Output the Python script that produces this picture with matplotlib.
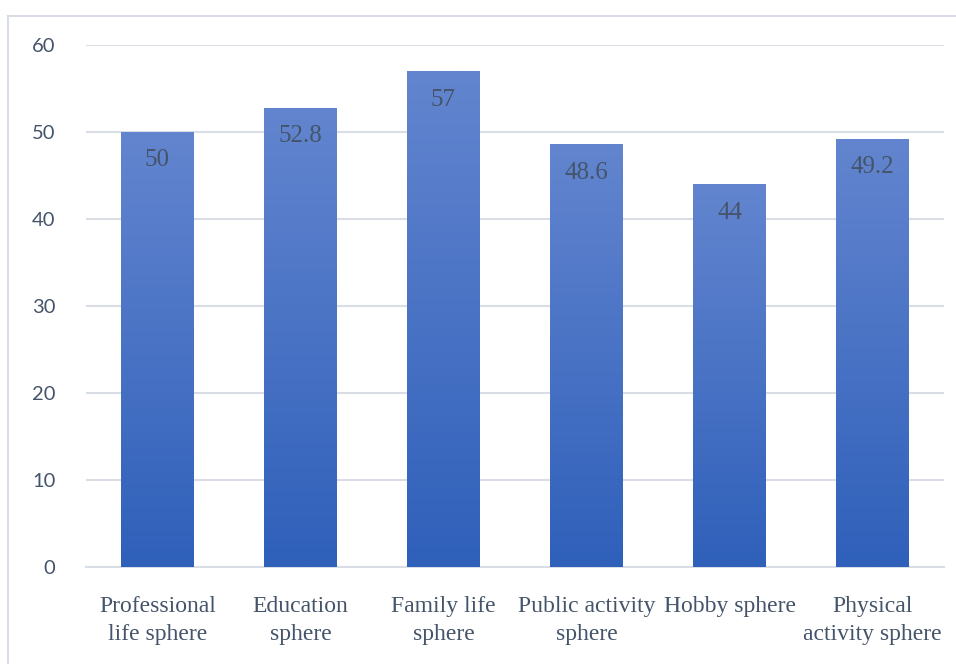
import matplotlib
matplotlib.use("Agg")
import matplotlib.pyplot as plt
import numpy as np
from matplotlib.colors import LinearSegmentedColormap
from matplotlib.lines import Line2D

categories = ["Professional\nlife sphere", "Education\nsphere", "Family life\nsphere",
              "Public activity\nsphere", "Hobby sphere", "Physical\nactivity sphere"]
values = [50, 52.8, 57, 48.6, 44, 49.2]
value_labels = ["50", "52.8", "57", "48.6", "44", "49.2"]
yticks = [0, 10, 20, 30, 40, 50, 60]

W, H = 956, 664
fig = plt.figure(figsize=(W / 100, H / 100), dpi=100)
ax = fig.add_axes([86 / W, (H - 567) / H, (944 - 86) / W, (567 - 45) / H])

text_color = "#44546A"
grid_color = "#D9DEE6"

# border of chart area
fig.add_artist(Line2D([8 / W, 1], [1 - 16 / H, 1 - 16 / H], color=grid_color, lw=1.5, transform=fig.transFigure))
fig.add_artist(Line2D([8 / W, 8 / W], [0, 1 - 16 / H], color=grid_color, lw=1.5, transform=fig.transFigure))

x = np.arange(len(categories))
bw = 0.51
bars = ax.bar(x, values, width=bw, color="none", edgecolor="none", zorder=3)

cmap = LinearSegmentedColormap.from_list("g", ["#2F60BA", "#6385CF"])
grad = np.linspace(0, 1, 256).reshape(-1, 1)
for b in bars:
    x0, y0 = b.get_x(), b.get_y()
    w, h = b.get_width(), b.get_height()
    im = ax.imshow(grad, extent=[x0, x0 + w, y0, y0 + h], origin="lower",
                   cmap=cmap, aspect="auto", zorder=3, interpolation="bilinear")
    im.set_clip_path(b)

for xi, v, lab in zip(x, values, value_labels):
    ax.annotate(lab, (xi, v), xytext=(0, -20.5), textcoords="offset points",
                ha="center", va="center", fontsize=18, color=text_color,
                family="Liberation Serif", zorder=5)

ax.set_xlim(-0.5, len(categories) - 0.5)
ax.set_ylim(0, 60)
ax.set_yticks(yticks)
ax.set_yticklabels([str(t) for t in yticks], fontsize=14.5, color=text_color, family="Lato")
ax.set_xticks(x)
ax.set_xticklabels(categories, fontsize=17, color=text_color, family="Liberation Serif",
                   linespacing=1.4)
ax.tick_params(axis="both", length=0)
ax.tick_params(axis="y", pad=22)
ax.tick_params(axis="x", pad=21)
ax.grid(axis="y", color=grid_color, lw=1.5, zorder=0)
ax.set_axisbelow(True)
for s in ["top", "right", "left"]:
    ax.spines[s].set_visible(False)
ax.spines["bottom"].set_color(grid_color)
ax.spines["bottom"].set_linewidth(1.5)

fig.savefig("out.png", dpi=100)
